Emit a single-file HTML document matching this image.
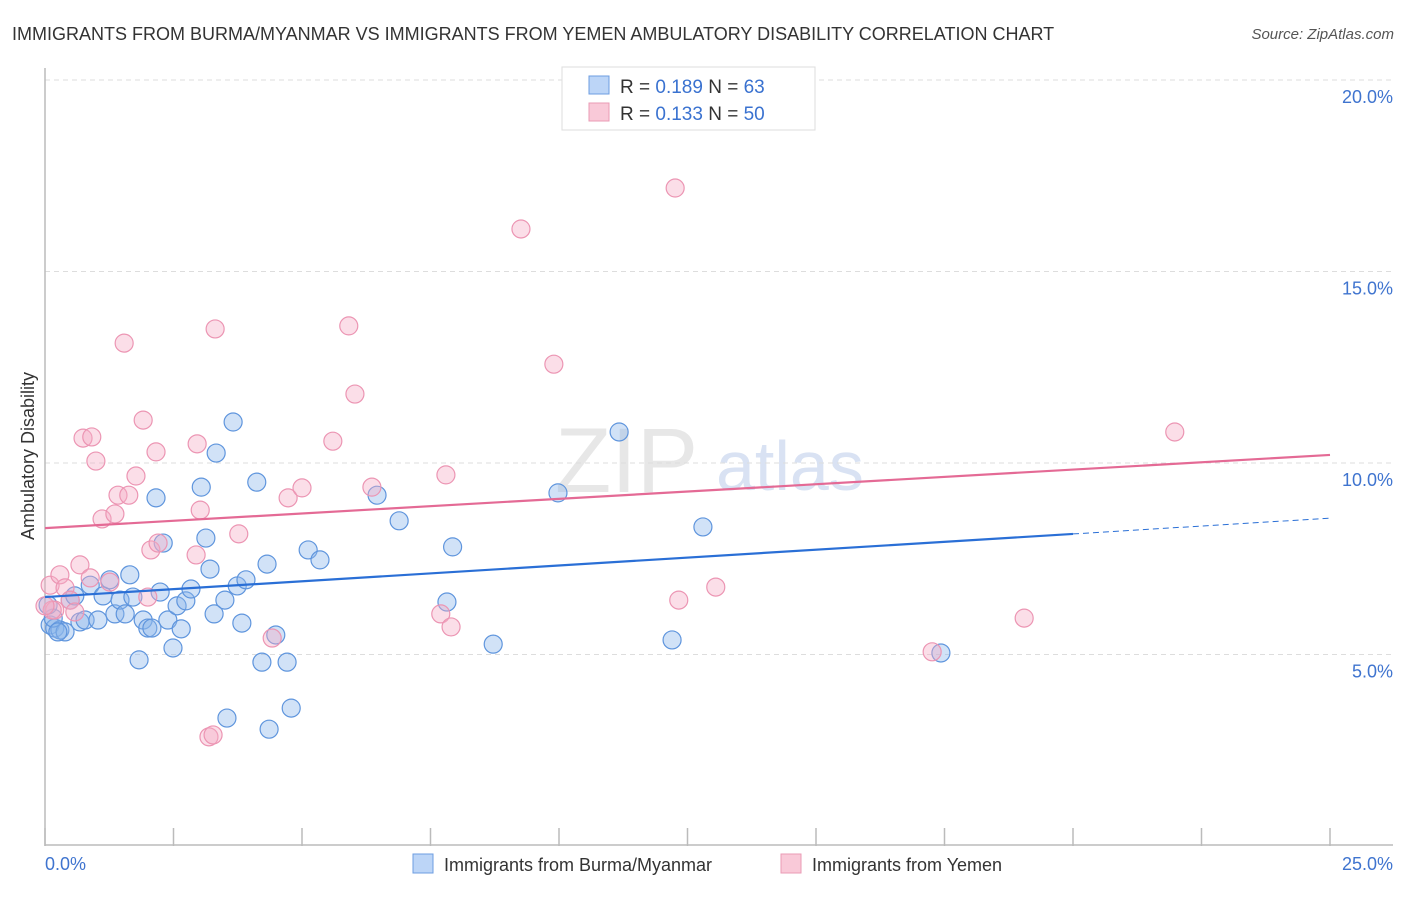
<!DOCTYPE html>
<html><head><meta charset="utf-8"><style>
body{margin:0;background:#fff;font-family:"Liberation Sans",sans-serif;}
svg text{font-family:"Liberation Sans",sans-serif;}
</style></head><body>
<svg id="chart" width="1406" height="892" xmlns="http://www.w3.org/2000/svg">
<text x="12" y="40" font-size="18" fill="#333">IMMIGRANTS FROM BURMA/MYANMAR VS IMMIGRANTS FROM YEMEN AMBULATORY DISABILITY CORRELATION CHART</text>
<text x="1394" y="39" font-size="15" fill="#555" font-style="italic" text-anchor="end">Source: ZipAtlas.com</text>
<g>
<text x="555" y="492" font-size="92" fill="#ddd" font-family="Liberation Serif" opacity="0.7">ZIP</text>
<text x="716" y="490" font-size="70" fill="#c9d7ef" opacity="0.7">atlas</text>
</g>
<g id="grid"></g>
<g id="axes"></g>
<g id="points"></g>
<g id="lines"></g>
<text transform="translate(34,456) rotate(-90)" font-size="18" fill="#333" text-anchor="middle">Ambulatory Disability</text>
<g>
<rect x="562" y="67" width="253" height="63" fill="#fff" stroke="#ddd"/>
<rect x="589" y="76" width="20" height="18" fill="#bcd5f7" stroke="#6d9de0"/>
<rect x="589" y="103" width="20" height="18" fill="#f9c9d8" stroke="#ea9bb5"/>
<text x="620" y="93" font-size="19" fill="#333">R = <tspan fill="#3a72d0">0.189</tspan>   N = <tspan fill="#3a72d0">63</tspan></text>
<text x="620" y="120" font-size="19" fill="#333">R = <tspan fill="#3a72d0">0.133</tspan>   N = <tspan fill="#3a72d0">50</tspan></text>
</g>
<g>
<rect x="413" y="854" width="20" height="19" fill="#bcd5f7" stroke="#6d9de0"/>
<text x="444" y="871" font-size="18" fill="#333">Immigrants from Burma/Myanmar</text>
<rect x="781" y="854" width="20" height="19" fill="#f9c9d8" stroke="#ea9bb5"/>
<text x="812" y="871" font-size="18" fill="#333">Immigrants from Yemen</text>
</g>
</svg>
<script>
const xTicks=[0,2.5,5,7.5,10,12.5,15,17.5,20,22.5,25];
const yTicks=[5,10,15,20];
const yTickLabels=["5.0%","10.0%","15.0%","20.0%"];
const burmaX=[0.10,0.19,0.29,0.39,0.49,0.58,0.68,0.78,0.88,1.03,1.13,1.26,1.36,1.46,1.56,1.65,1.71,1.83,1.91,2.00,2.08,2.16,2.24,2.30,2.39,2.49,2.57,2.65,2.74,2.84,3.04,3.13,3.21,3.29,3.33,3.50,3.66,3.74,3.83,3.91,4.12,4.22,4.32,4.49,4.71,4.79,3.54,4.36,5.12,5.35,6.46,6.89,7.82,7.93,8.72,9.98,11.17,12.20,12.80,17.43,0.16,0.25,0.06];
const burmaY=[5.77,5.69,5.64,5.59,6.42,6.53,5.85,5.90,6.81,5.90,6.53,6.95,6.06,6.42,6.06,7.08,6.50,4.86,5.90,5.69,5.69,9.09,6.63,7.91,5.90,5.17,6.27,5.67,6.40,6.71,9.37,8.04,7.23,6.06,10.26,6.42,11.07,6.79,5.82,6.95,9.50,4.80,7.36,5.51,4.80,3.60,3.34,3.05,7.73,7.47,9.16,8.49,6.37,7.81,5.27,9.22,10.81,5.38,8.33,5.04,5.95,5.59,6.29];
const yemenX=[0.10,0.19,0.29,0.39,0.49,0.58,0.68,0.74,0.88,0.91,0.99,1.11,1.26,1.36,1.42,1.54,1.63,1.77,1.91,2.00,2.06,2.16,2.20,2.94,2.96,3.02,3.19,3.27,3.31,3.77,4.42,4.73,5.00,5.60,5.91,6.03,6.36,7.70,7.80,7.90,9.26,9.90,12.26,12.33,13.05,17.26,19.05,21.98,0.14,0.00];
const yemenY=[6.81,6.16,7.08,6.74,6.42,6.11,7.34,10.65,7.00,10.68,10.05,8.54,6.89,8.67,9.16,13.13,9.16,9.66,11.12,6.50,7.73,10.29,7.91,7.60,10.50,8.77,2.85,2.90,13.50,8.15,5.43,9.09,9.35,10.57,13.58,11.80,9.37,6.06,9.69,5.72,16.11,12.58,17.18,6.42,6.76,5.07,5.95,10.81,6.16,6.27];
const burmaTrend=[6.50,8.56];
const yemenTrend=[8.30,10.21];
const NS="http://www.w3.org/2000/svg";
const X0=45,X1=1330,Y0=846,Y20=80;
function sx(v){return X0+(X1-X0)*v/25;}
function sy(v){return Y0-(Y0-Y20)*v/20;}
function mk(tag,attrs,parent){const e=document.createElementNS(NS,tag);for(const k in attrs)e.setAttribute(k,attrs[k]);parent.appendChild(e);return e;}
const grid=document.getElementById('grid'),axes=document.getElementById('axes'),pts=document.getElementById('points'),lines=document.getElementById('lines');
yTicks.forEach((t,i)=>{
 const l=mk('line',{x1:X0,x2:1393,y1:sy(t),y2:sy(t),stroke:'#ddd','stroke-dasharray':'5,4'},grid);
 
 
 const tx=mk('text',{x:1393,y:sy(t)+23,'font-size':18,fill:'#3f74cf','text-anchor':'end'},axes);
 tx.textContent=yTickLabels[i];
 
 
});
const ax=mk('line',{x1:X0,x2:X0,y1:68,y2:Y0,stroke:'#bbb','stroke-width':1.5},axes);


const bx=mk('line',{x1:X0,x2:1393,y1:Y0-1,y2:Y0-1,stroke:'#bbb','stroke-width':1.5},axes);


xTicks.forEach(t=>{
 const l=mk('line',{x1:sx(t),x2:sx(t),y1:828,y2:Y0,stroke:'#bbb','stroke-width':1.5},axes);
 
 
});
const xl0=mk('text',{x:45,y:870,'font-size':18,fill:'#3f74cf'},axes);xl0.textContent=xTicks[0].toFixed(1)+'%';


const xl1=mk('text',{x:1393,y:870,'font-size':18,fill:'#3f74cf','text-anchor':'end'},axes);xl1.textContent=xTicks[xTicks.length-1].toFixed(1)+'%';


burmaX.forEach((x,i)=>{
 const c=mk('circle',{cx:sx(x),cy:sy(burmaY[i]),r:9,fill:'rgba(140,182,236,0.4)',stroke:'#5f95dd','stroke-width':1.2},pts);
 
 
});
yemenX.forEach((x,i)=>{
 const c=mk('circle',{cx:sx(x),cy:sy(yemenY[i]),r:9,fill:'rgba(246,172,198,0.4)',stroke:'#ec95b3','stroke-width':1.2},pts);
 
 
});
function tv(tr,x){return tr[0]+(tr[1]-tr[0])*x/25;}
const b1=mk('line',{x1:sx(0),y1:sy(tv(burmaTrend,0)),x2:sx(20),y2:sy(tv(burmaTrend,20)),stroke:'#2a6fd6','stroke-width':2.2},lines);


const b2=mk('line',{x1:sx(20),y1:sy(tv(burmaTrend,20)),x2:sx(25),y2:sy(tv(burmaTrend,25)),stroke:'#2a6fd6','stroke-width':1,'stroke-dasharray':'6,4'},lines);


const p1=mk('line',{x1:sx(0),y1:sy(tv(yemenTrend,0)),x2:sx(25),y2:sy(tv(yemenTrend,25)),stroke:'#e46a95','stroke-width':2.2},lines);


</script>
</body></html>
